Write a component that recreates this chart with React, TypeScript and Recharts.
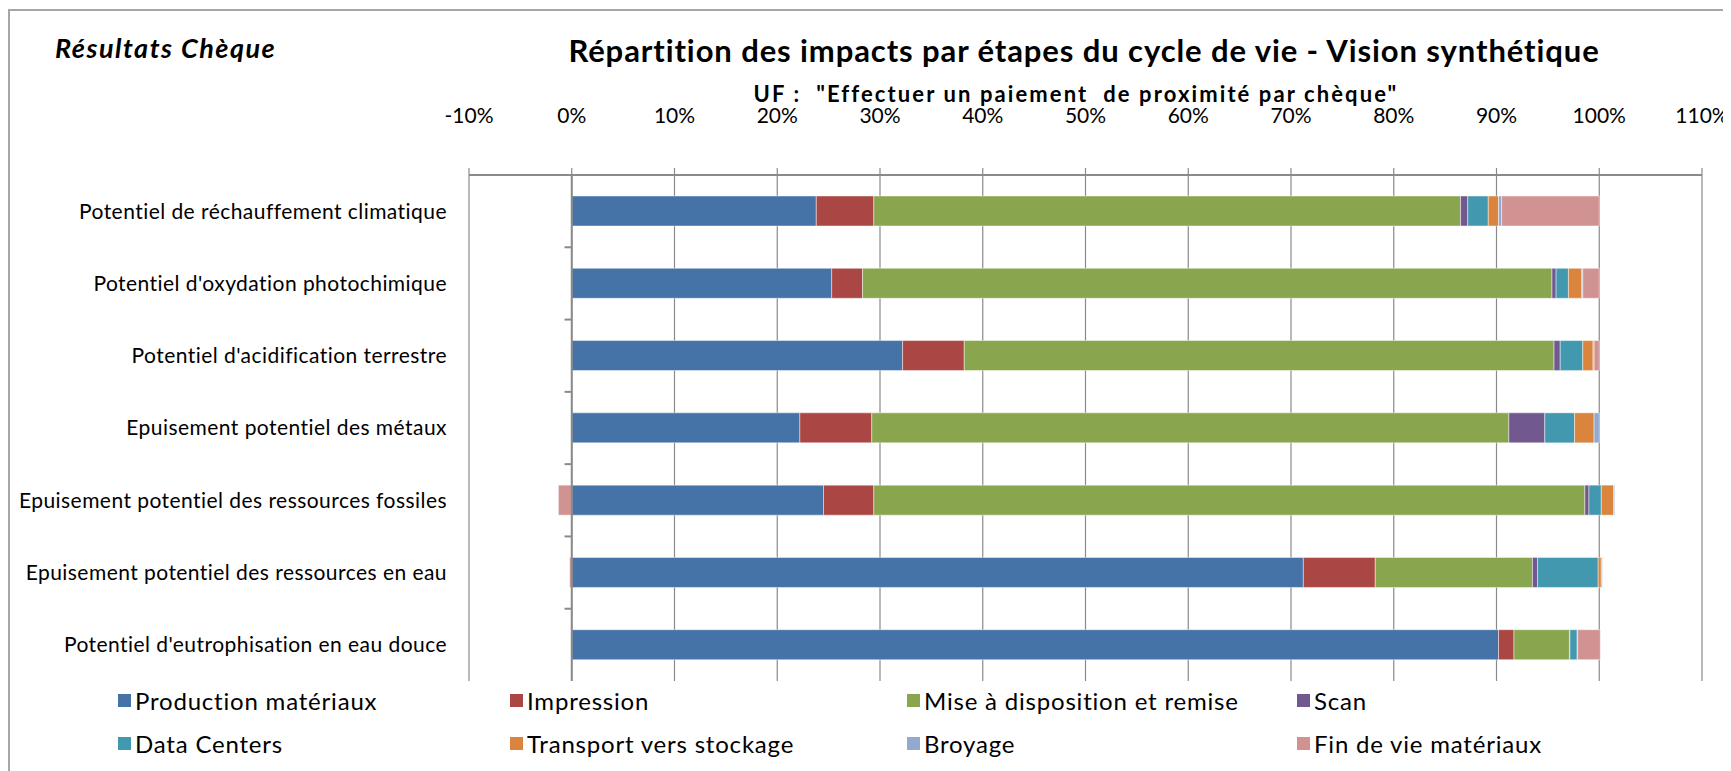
import React from 'react';
import { BarChart, Bar, XAxis, YAxis, CartesianGrid, ReferenceLine, Legend } from 'recharts';

const categories = [
    'Potentiel de réchauffement climatique',
    "Potentiel d'oxydation  photochimique",
    "Potentiel d'acidification terrestre",
    'Epuisement potentiel  des métaux',
    'Epuisement potentiel  des ressources fossiles',
    'Epuisement potentiel  des ressources en eau',
    "Potentiel d'eutrophisation en eau douce",
];

// shares in %
const production = [23.8, 25.3, 32.2, 22.2, 24.5, 71.2, 90.2];
const impression = [5.6, 3.0, 6.0, 7.0, 4.9, 7.0, 1.5];
const miseADisposition = [57.1, 67.1, 57.4, 62.0, 69.2, 15.3, 5.4];
const scan = [0.7, 0.4, 0.6, 3.5, 0.4, 0.5, 0.05];
const dataCenters = [2.0, 1.2, 2.2, 2.9, 1.2, 5.9, 0.7];
const transport = [1.0, 1.3, 1.0, 1.9, 1.2, 0.3, 0.05];
const broyage = [0.3, 0.1, 0.1, 0.5, 0.1, 0.1, 0];
const finDeVie = [9.5, 1.6, 0.5, 0, -1.3, -0.2, 2.2];

const xTicks = [-10, 0, 10, 20, 30, 40, 50, 60, 70, 80, 90, 100, 110];

const seriesList = [
    { key: 'production', label: 'Production matériaux', color: '#4572A7', values: production },
    { key: 'impression', label: 'Impression', color: '#AA4643', values: impression },
    { key: 'mise', label: 'Mise à disposition et remise', color: '#89A54E', values: miseADisposition },
    { key: 'scan', label: 'Scan', color: '#71588F', values: scan },
    { key: 'dc', label: 'Data Centers', color: '#4198AF', values: dataCenters },
    { key: 'transport', label: 'Transport vers stockage', color: '#DB843D', values: transport },
    { key: 'broyage', label: 'Broyage', color: '#93A9CF', values: broyage },
    { key: 'fin', label: 'Fin de vie matériaux', color: '#D19392', values: finDeVie },
];

const data = categories.map((name, i) => {
    const row: any = { name };
    seriesList.forEach(s => { row[s.key] = s.values[i]; });
    return row;
});

const FONT = 'Lato, "Open Sans", sans-serif';
const GRID = '#8a8a8a';

const LegendBox = () => (
    <div style={{
        display: 'grid',
        gridTemplateColumns: '392px 397px 390px 300px',
        gridAutoRows: '43px',
        paddingLeft: 110,
        marginTop: -2,
        height: 92,
        boxSizing: 'border-box',
        fontFamily: FONT,
        fontSize: 24,
        letterSpacing: 0.8,
        color: '#000',
        alignItems: 'center',
    }}>
        {seriesList.map(s => (
            <div key={s.key} style={{ display: 'flex', alignItems: 'center', height: 43 }}>
                <span style={{ width: 13, height: 13, background: s.color, display: 'inline-block', marginRight: 4 }} />
                <span style={{ whiteSpace: 'nowrap' }}>{s.label}</span>
            </div>
        ))}
    </div>
);

const App = () => {
    return (
        <div style={{ position: 'relative', width: 1723, height: 763, background: '#fff' }}>
            <div style={{ position: 'absolute', left: 0, top: 1, right: 0, bottom: 0, borderTop: '2px solid #a6a6a6', borderLeft: '2px solid #a6a6a6' }} />
            <div style={{ position: 'absolute', left: 47, top: 24, fontFamily: FONT, fontWeight: 700, fontStyle: 'italic', fontSize: 27, letterSpacing: 1.5, lineHeight: '32px' }}>
                Résultats  Chèque
            </div>
            <div style={{ position: 'absolute', left: 0, width: 2152, top: 24, textAlign: 'center', fontFamily: FONT, fontWeight: 700, fontSize: 31, letterSpacing: 0.9, lineHeight: '36px' }}>
                Répartition des impacts par étapes du cycle de vie - Vision synthétique
            </div>
            <div style={{ position: 'absolute', left: 0, width: 2136, top: 79, textAlign: 'center', fontFamily: FONT, fontWeight: 700, fontSize: 22, letterSpacing: 2.1, lineHeight: '14px', whiteSpace: 'pre' }}>
                {'UF :  "Effectuer un paiement  de proximité par chèque"'}
            </div>
            <BarChart
                width={1723}
                height={763}
                data={data}
                layout="vertical"
                stackOffset="sign"
                barSize={30}
                margin={{ top: 0, right: 29, bottom: 0, left: 0 }}
                style={{ position: 'absolute', left: 0, top: 0 }}
            >
                <CartesianGrid horizontal={false} stroke={GRID} strokeWidth={1.2} />
                <XAxis
                    type="number"
                    orientation="top"
                    domain={[-10, 110]}
                    ticks={xTicks}
                    tickFormatter={(v: number) => `${v}%`}
                    height={167}
                    tickSize={7}
                    tickMargin={45}
                    axisLine={{ stroke: GRID, strokeWidth: 2 }}
                    tickLine={{ stroke: GRID, strokeWidth: 1.2 }}
                    tick={{ fontSize: 21, fill: '#000', fontFamily: FONT }}
                    interval={0}
                />
                <YAxis
                    type="category"
                    dataKey="name"
                    width={461}
                    tickLine={false}
                    axisLine={false}
                    tickSize={0}
                    tickMargin={22}
                    interval={0}
                    tick={{ fontSize: 21, fill: '#000', fontFamily: FONT, letterSpacing: 0.45, style: { whiteSpace: 'pre' } }}
                />
                {seriesList.map(s => (
                    <Bar
                        key={s.key}
                        dataKey={s.key}
                        name={s.label}
                        stackId="a"
                        fill={s.color}
                        stroke="rgba(255,255,255,0.45)"
                        strokeWidth={1}
                        isAnimationActive={false}
                    />
                ))}
                <ReferenceLine x={0} stroke={GRID} strokeWidth={2} />
                {categories.map(c => (
                    <ReferenceLine key={c} position="start" segment={[{ x: -0.7, y: c }, { x: 0, y: c }]} stroke={GRID} strokeWidth={2} />
                ))}
                <ReferenceLine position="end" segment={[{ x: -0.7, y: categories[categories.length - 1] }, { x: 0, y: categories[categories.length - 1] }]} stroke={GRID} strokeWidth={2} />
                <Legend verticalAlign="bottom" align="left" content={() => <LegendBox />} wrapperStyle={{ width: 1723, left: 0 }} />
            </BarChart>
        </div>
    );
};

export default App;
